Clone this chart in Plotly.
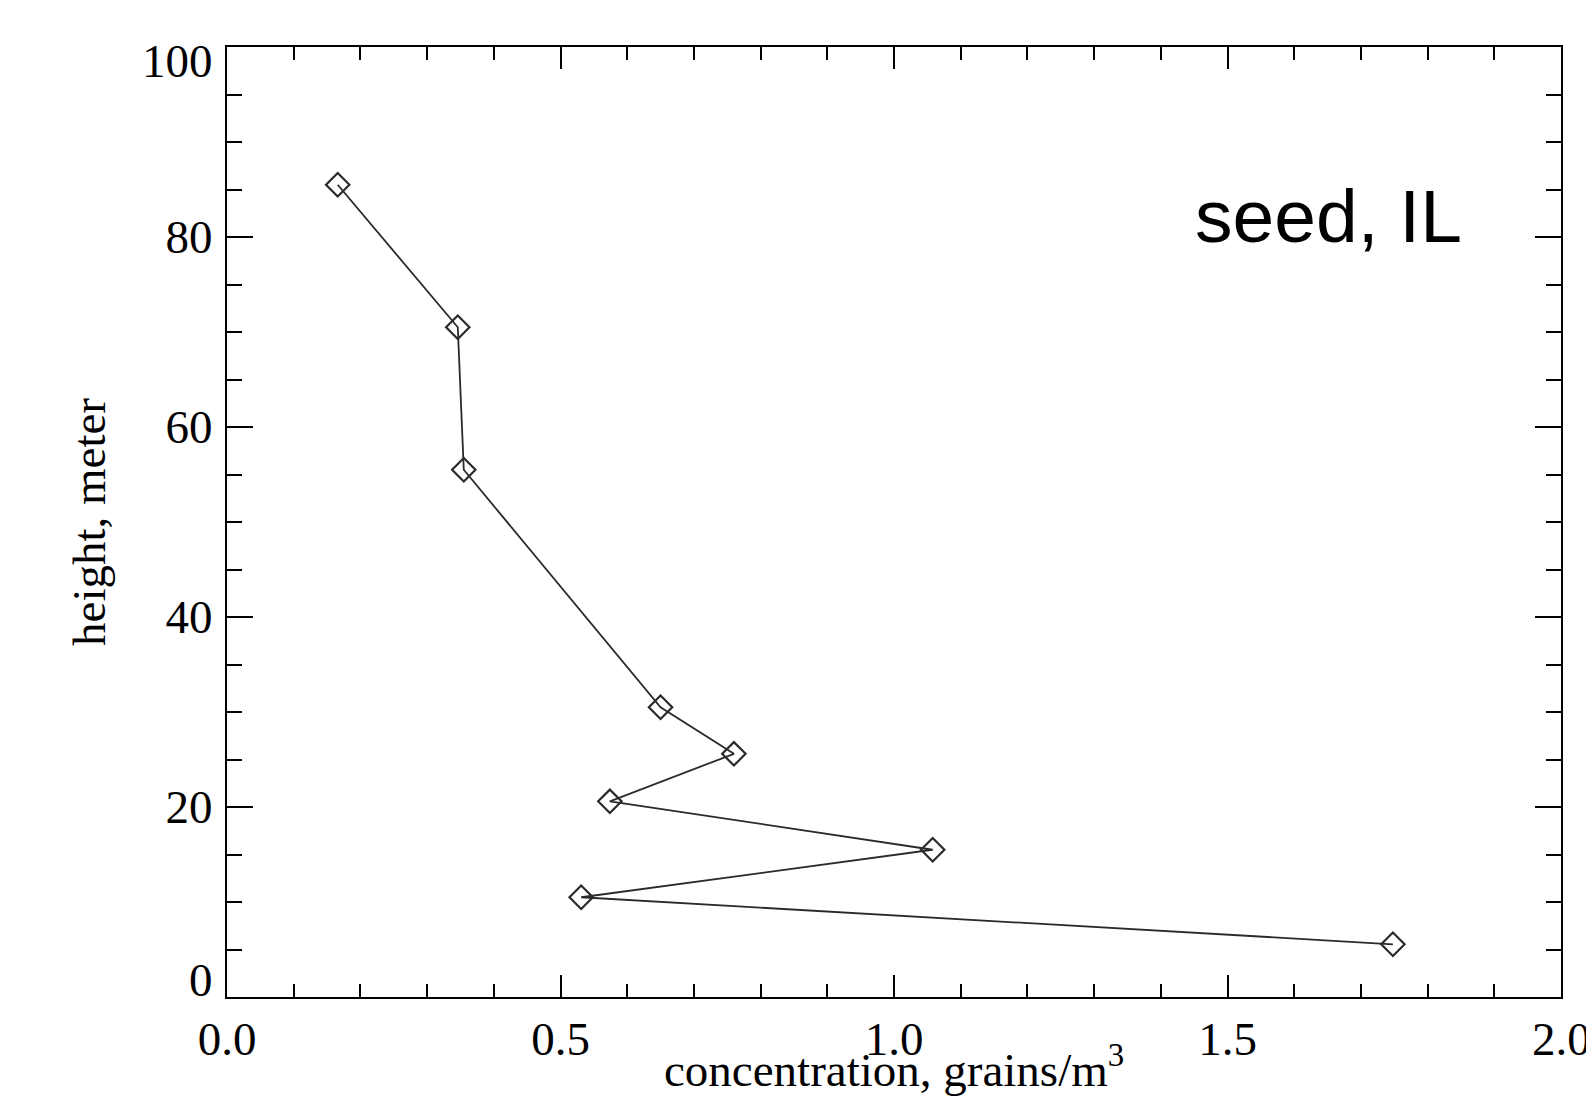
import plotly.graph_objects as go

# data
concentration = [0.166, 0.346, 0.355, 0.650, 0.760, 0.574, 1.058, 0.531, 1.748]
height = [85.5, 70.5, 55.5, 30.5, 25.6, 20.6, 15.5, 10.5, 5.55]

x_tickvals = [0.0, 0.5, 1.0, 1.5]
x_ticktext = ["0.0", "0.5", "1.0", "1.5"]
x_edge_vals = [2.0]
x_edge_text = ["2.0"]
y_tickvals = [20, 40, 60, 80]
y_ticktext = ["20", "40", "60", "80"]
y_edge_vals = [0, 100]
y_edge_text = ["0", "100"]

serif = "Liberation Serif, Times New Roman, serif"
FS = 47

fig = go.Figure()
fig.add_trace(go.Scatter(
    x=concentration, y=height, mode="lines+markers",
    line=dict(color="#2a2a2a", width=1.8),
    marker=dict(symbol="diamond-open", size=18, color="#2a2a2a",
                line=dict(width=2.2, color="#2a2a2a")),
    showlegend=False,
))

common_axis = dict(showgrid=False, zeroline=False, showline=True, linecolor="black",
                   linewidth=2, mirror="ticks", ticks="inside", tickcolor="black",
                   tickwidth=2, tickfont=dict(family=serif, size=FS, color="black"))

fig.update_xaxes(range=[0, 2], tickvals=x_tickvals, ticktext=x_ticktext, ticklen=22,
                 minor=dict(dtick=0.1, ticks="inside", ticklen=13, tickwidth=2, tickcolor="black"),
                 ticklabelstandoff=0,
                 **common_axis)
fig.update_yaxes(range=[0, 100], tickvals=y_tickvals, ticktext=y_ticktext, ticklen=26,
                 minor=dict(dtick=5, ticks="inside", ticklen=15, tickwidth=2, tickcolor="black"),
                 title=dict(text="height, meter",
                            font=dict(family=serif, size=FS, color="black"), standoff=45),
                 ticklabelstandoff=3,
                 **common_axis)

# edge labels (0 and 100) sit slightly inside the axis range in the reference
for v, t, sh in zip(y_edge_vals, y_edge_text, [17, -14]):
    fig.add_annotation(x=0, xref="paper", y=v, yref="y", text=t, showarrow=False,
                       xanchor="right", yanchor="middle", xshift=-12, yshift=sh,
                       font=dict(family=serif, size=FS, color="black"))
for v, t in zip(x_edge_vals, x_edge_text):
    fig.add_annotation(x=v, xref="x", y=0, yref="paper", text=t, showarrow=False,
                       xanchor="center", yanchor="middle", yshift=-42,
                       font=dict(family=serif, size=FS, color="black"))

fig.add_annotation(x=0.5, xref="paper", y=0, yref="paper",
                   text="concentration, grains/m<sup>3</sup>", showarrow=False,
                   xanchor="center", yanchor="middle", yshift=-69,
                   font=dict(family=serif, size=FS, color="black"))

fig.add_annotation(x=0.8256, xref="paper", y=0.8216, yref="paper", text="seed, IL",
                   showarrow=False, xanchor="center", yanchor="middle",
                   font=dict(family="Liberation Sans, Arial, sans-serif", size=75, color="black"))

fig.update_layout(width=1586, height=1120, plot_bgcolor="white", paper_bgcolor="white",
                  margin=dict(l=227, r=25, t=47, b=123))

fig.write_html("out.html")
